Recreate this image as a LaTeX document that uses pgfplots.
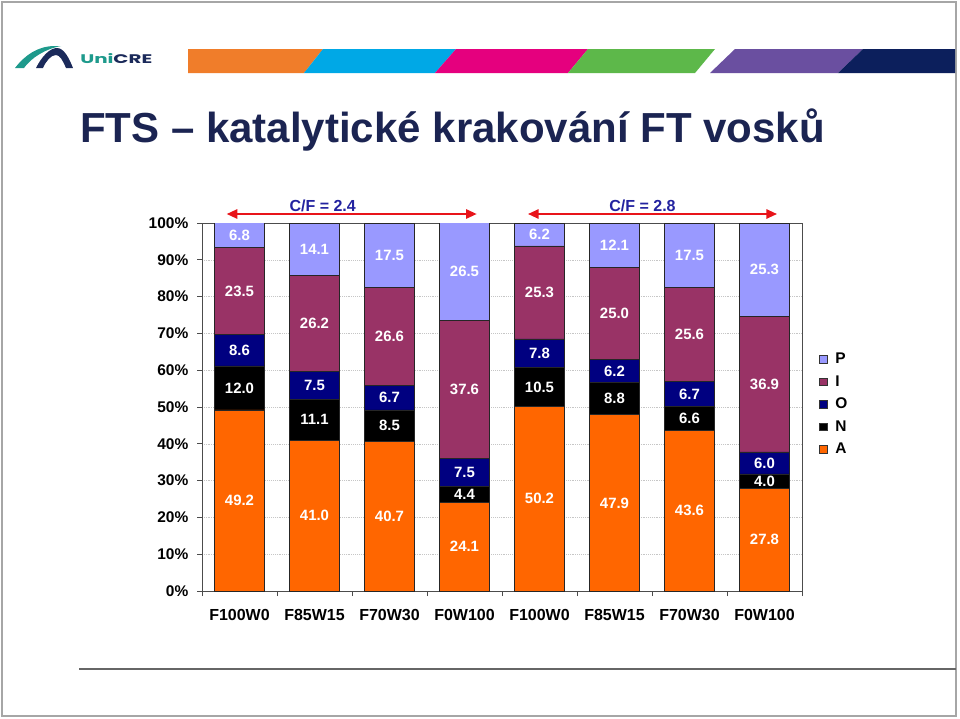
\documentclass[border=0pt]{standalone}
\usepackage{fontspec}
\setmainfont{Liberation Sans}
\newfontfamily\popfont{Poppins}
\usepackage{pgfplots}
\pgfplotsset{compat=1.18}
\usetikzlibrary{arrows.meta}

\definecolor{cA}{HTML}{FF6600}
\definecolor{cN}{HTML}{000000}
\definecolor{cO}{HTML}{000080}
\definecolor{cI}{HTML}{993366}
\definecolor{cP}{HTML}{9999FF}
\definecolor{sOr}{HTML}{F07D2A}
\definecolor{sBl}{HTML}{00A8E6}
\definecolor{sPk}{HTML}{E5007E}
\definecolor{sGr}{HTML}{5DB84A}
\definecolor{sPu}{HTML}{6A4FA0}
\definecolor{sNv}{HTML}{0C1F5C}
\definecolor{titlec}{HTML}{1B2452}
\definecolor{logoT}{HTML}{1E9A8C}
\definecolor{logoN}{HTML}{1B2A5A}
\definecolor{cfblue}{HTML}{2323A0}
\definecolor{arrred}{HTML}{E8141A}

\pgfplotsset{lsq/.style={legend image code/.code={\draw[##1, draw=black!80, line width=0.4pt] (0pt,-2.8pt) rectangle (5.6pt,2.8pt); \path[draw=none, fill=none] (0pt,0pt) (10pt,0pt);}}}

\begin{document}
\begin{tikzpicture}
\begin{scope}[x=0.75pt,y=-0.75pt]
\path[use as bounding box] (0,0) rectangle (960,718);
\fill[white] (0,0) rectangle (960,718);
\draw[gray!70, line width=1.1pt] (2,2) rectangle (956,716);
\draw[black!60, line width=1.4pt] (79,669) -- (956,669);
% stripe
\fill[sOr] (188,49) -- (323,49) -- (304,73) -- (188,73) -- cycle;
\fill[sBl] (323,49) -- (456,49) -- (435,73) -- (304,73) -- cycle;
\fill[sPk] (456,49) -- (588,49) -- (568,73) -- (435,73) -- cycle;
\fill[sGr] (588,49) -- (715,49) -- (695,73) -- (568,73) -- cycle;
\fill[sPu] (735,49) -- (863,49) -- (838,73) -- (710,73) -- cycle;
\fill[sNv] (863,49) -- (955,49) -- (955,73) -- (838,73) -- cycle;
% logo
\fill[logoT] (15,68) .. controls (25,55) and (38,46) .. (55,46) -- (61,46) .. controls (45,49) and (31,58) .. (24,68) -- cycle;
\fill[logoN] (36,68) .. controls (42,56) and (50,48) .. (57,48) .. controls (64,48) and (69,58) .. (73,68) -- (66,68) .. controls (63,61) and (60,55) .. (56,55) .. controls (51,55) and (46,61) .. (43,68) -- cycle;
\node[anchor=west, inner sep=0] at (80,59) {\resizebox{54pt}{7.5pt}{\popfont\bfseries\textcolor{logoT}{Uni}\textcolor{logoN}{CRE}}};
% title
\node[anchor=base west, inner sep=0, text=titlec, font=\bfseries\fontsize{31.5}{36}\selectfont] at (80,142) {FTS – katalytické krakování FT vosků};
\end{scope}

\begin{axis}[
  at={(151.5pt,-443.25pt)}, anchor=south west,
  scale only axis, width=450pt, height=276pt,
  ybar stacked, bar width=37.5pt,
  xmin=-0.5, xmax=7.5, ymin=0, ymax=100,
  xtick={-0.5,0.5,...,7.5}, xticklabels={},
  extra x ticks={0,1,2,3,4,5,6,7},
  extra x tick labels={F100W0,F85W15,F70W30,F0W100,F100W0,F85W15,F70W30,F0W100},
  extra x tick style={major tick length=0pt, grid=none},
  ytick={0,10,...,100},
  yticklabel={\pgfmathprintnumber[fixed, precision=0]{\tick}\%},
  tick align=outside, xtick pos=bottom, ytick pos=left,
  major tick length=3.75pt,
  ymajorgrids, grid style={densely dotted, gray!45},
  axis line style={black!70},
  tick style={black!70, line width=0.6pt},
  ticklabel style={font=\bfseries\fontsize{11.6}{13}\selectfont},
  y tick label style={xshift=-3pt},
  x tick label style={font=\bfseries\fontsize{12}{13}\selectfont, yshift=-10.5pt},
  /pgf/number format/assume math mode=true,
  reverse legend,
  legend cell align=left,
  legend style={draw=none, fill=none, at={(1.028,0.655)}, anchor=north west, inner sep=0pt,
    font=\bfseries\fontsize{11.6}{13}\selectfont, row sep=3.4pt},
]
\addplot[fill=cA, draw=black!85, lsq] coordinates {(0,49.2) (1,41.0) (2,40.7) (3,24.1) (4,50.2) (5,47.9) (6,43.6) (7,27.8)};
\addplot[fill=cN, draw=black!85, lsq] coordinates {(0,12.0) (1,11.1) (2,8.5) (3,4.4) (4,10.5) (5,8.8) (6,6.6) (7,4.0)};
\addplot[fill=cO, draw=black!85, lsq] coordinates {(0,8.6) (1,7.5) (2,6.7) (3,7.5) (4,7.8) (5,6.2) (6,6.7) (7,6.0)};
\addplot[fill=cI, draw=black!85, lsq] coordinates {(0,23.5) (1,26.2) (2,26.6) (3,37.6) (4,25.3) (5,25.0) (6,25.6) (7,36.9)};
\addplot[fill=cP, draw=black!85, lsq] coordinates {(0,6.8) (1,14.1) (2,17.5) (3,26.5) (4,6.2) (5,12.1) (6,17.5) (7,25.3)};
\legend{A,N,O,I,P}
\end{axis}

% data labels, centred in each segment
\begin{axis}[
  at={(151.5pt,-443.25pt)}, anchor=south west,
  scale only axis, width=450pt, height=276pt,
  xmin=-0.5, xmax=7.5, ymin=0, ymax=100,
  hide axis, clip=false,
]
\addplot[draw=none, mark=none, nodes near coords, point meta=explicit symbolic,
  every node near coord/.style={anchor=center, text=white, inner sep=0pt,
    font=\bfseries\fontsize{11.2}{12}\selectfont}]
  table[meta=lab] {
x y lab
0 24.6 49.2
0 55.2 12.0
0 65.5 8.6
0 81.55 23.5
0 96.7 6.8
1 20.5 41.0
1 46.55 11.1
1 55.85 7.5
1 72.7 26.2
1 92.85 14.1
2 20.35 40.7
2 44.95 8.5
2 52.55 6.7
2 69.2 26.6
2 91.25 17.5
3 12.05 24.1
3 26.3 4.4
3 32.25 7.5
3 54.8 37.6
3 86.85 26.5
4 25.1 50.2
4 55.45 10.5
4 64.6 7.8
4 81.15 25.3
4 96.9 6.2
5 23.95 47.9
5 52.3 8.8
5 59.8 6.2
5 75.4 25.0
5 93.95 12.1
6 21.8 43.6
6 46.9 6.6
6 53.55 6.7
6 69.7 25.6
6 91.25 17.5
7 13.9 27.8
7 29.8 4.0
7 34.8 6.0
7 56.25 36.9
7 87.35 25.3
};
\end{axis}

\begin{scope}[x=0.75pt,y=-0.75pt]
\draw[arrred, line width=1.4pt, {Triangle[length=8pt,width=7pt]}-{Triangle[length=8pt,width=7pt]}] (226.7,214) -- (476.7,214);
\draw[arrred, line width=1.4pt, {Triangle[length=8pt,width=7pt]}-{Triangle[length=8pt,width=7pt]}] (528,214) -- (777,214);
\node[text=cfblue, font=\bfseries\fontsize{12}{13}\selectfont, inner sep=0] at (322.7,206) {C/F = 2.4};
\node[text=cfblue, font=\bfseries\fontsize{12}{13}\selectfont, inner sep=0] at (642.5,206) {C/F = 2.8};
\end{scope}
\end{tikzpicture}
\end{document}
